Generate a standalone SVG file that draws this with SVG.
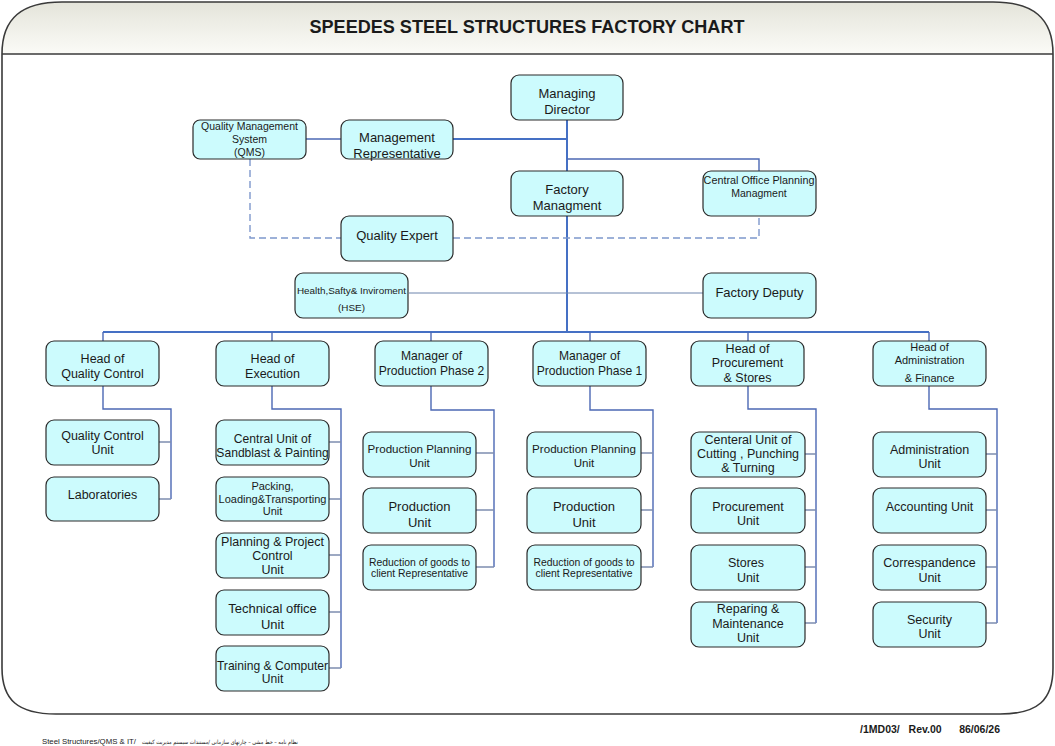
<svg xmlns="http://www.w3.org/2000/svg" width="1055" height="746" viewBox="0 0 1055 746">
<defs>
<linearGradient id="hdr" x1="0" y1="0" x2="0" y2="1">
<stop offset="0" stop-color="#e4e4da"/>
<stop offset="1" stop-color="#fbfbf7"/>
</linearGradient>
</defs>
<style>
.n rect{fill:#ccfbfd;stroke:#2a2a2a;stroke-width:1.2}
text{font-family:"Liberation Sans",Arial,sans-serif;fill:#1a1a1a;text-anchor:middle}
.a{font-size:12.5px}
.a2{font-size:12.1px}
.b{font-size:13px}
.s{font-size:10.5px}
.s8{font-size:10.8px}
.h{font-size:11px}
.m{font-size:11.6px}
.l{text-anchor:start}
.r{text-anchor:end}
.c path{fill:none}
.main{stroke:#4570c4;stroke-width:2}
.br{stroke:#4c68b4;stroke-width:1.4}
.st{stroke:#7d8db0;stroke-width:1.3}
.thin{stroke:#6d84ac;stroke-width:1}
.dash{stroke:#7e98cc;stroke-width:1.4;stroke-dasharray:7,4}
</style>
<rect width="1055" height="746" fill="#ffffff"/>
<g id="frame">
<path d="M2,54 C2,18 22,2 62,2 L993,2 C1033,2 1053,18 1053,54 Z" fill="url(#hdr)"/>
<path d="M2,54 C2,18 22,2 62,2 L993,2 C1033,2 1053,18 1053,54 L1053,668 C1053,700 1038,714 1000,714 L56,714 C18,714 2,700 2,668 Z" fill="none" stroke="#3a3a3a" stroke-width="1.6"/>
<line x1="2" y1="54" x2="1053" y2="54" stroke="#3a3a3a" stroke-width="1.6"/>
<text x="527" y="33" font-size="18" font-weight="bold" textLength="435" lengthAdjust="spacingAndGlyphs">SPEEDES STEEL STRUCTURES FACTORY CHART</text>
</g>
<g id="connectors" class="c">
<path class="main" d="M567,120 V171"/>
<path class="main" d="M453,139 H567"/>
<path class="br" d="M306,139 H341"/>
<path class="br" d="M567,159 H759 V171"/>
<path class="main" d="M567,216 V332"/>
<path class="main" d="M103,332 H929"/>
<path class="br" d="M103,332 V341 M272,332 V341 M431,332 V341 M590,332 V341 M748,332 V341 M929,332 V341"/>
<path class="thin" d="M409,293 H703"/>
<path class="dash" d="M250,159 V238 H341"/>
<path class="dash" d="M453,238 H759 V216"/>
<path class="br" d="M103,386 V409 H171 V499"/>
<path class="st" d="M159,442 H171 M159,499 H171"/>
<path class="br" d="M272,386 V409 H341 V668"/>
<path class="st" d="M329,442 H341 M329,499 H341 M329,555 H341 M329,612 H341 M329,668 H341"/>
<path class="br" d="M431,386 V410 H494 V567"/>
<path class="st" d="M476,453 H494 M476,510 H494 M476,567 H494"/>
<path class="br" d="M590,386 V410 H653 V567"/>
<path class="st" d="M641,453 H653 M641,510 H653 M641,567 H653"/>
<path class="br" d="M748,386 V409 H816 V623"/>
<path class="st" d="M805,454 H816 M805,510 H816 M805,567 H816 M805,623 H816"/>
<path class="br" d="M929,386 V409 H997 V623"/>
<path class="st" d="M986,454 H997 M986,510 H997 M986,567 H997 M986,623 H997"/>
</g>
<g id="md" class="n"><rect x="511" y="75" width="112" height="45" rx="8"/><text class="b" x="567" y="97.5">Managing</text><text class="b" x="567" y="113.5">Director</text></g>
<g id="qms" class="n"><rect x="193" y="120" width="113" height="39" rx="7"/><text class="s" x="249.5" y="130">Quality Management</text><text class="s" x="249.5" y="143">System</text><text class="s" x="249.5" y="156">(QMS)</text></g>
<g id="mr" class="n"><rect x="341" y="120" width="112" height="39" rx="8"/><text class="b" x="397" y="141.5">Management</text><text class="b" x="397" y="157.5">Representative</text></g>
<g id="fm" class="n"><rect x="511" y="171" width="112" height="45" rx="8"/><text class="b" x="567" y="193.5">Factory</text><text class="b" x="567" y="209.5">Managment</text></g>
<g id="copm" class="n"><rect x="703" y="171" width="113" height="45" rx="8"/><text class="s8" x="759" y="184">Central Office Planning</text><text class="s" x="759" y="197">Managment</text></g>
<g id="qe" class="n"><rect x="341" y="216" width="112" height="45" rx="8"/><text class="b" x="397" y="239.5">Quality Expert</text></g>
<g id="hse" class="n"><rect x="295" y="273" width="113" height="45" rx="8"/><text x="351.5" y="294" font-size="9.9">Health,Safty&amp; Inviroment</text><text x="351.5" y="311" font-size="9.9">(HSE)</text></g>
<g id="fd" class="n"><rect x="703" y="273" width="113" height="45" rx="8"/><text class="b" x="759.5" y="296.5">Factory Deputy</text></g>
<g id="hqc" class="n"><rect x="46" y="341" width="113" height="45" rx="8"/><text class="a" x="102.5" y="362.5">Head of</text><text class="a" x="102.5" y="377.5">Quality Control</text></g>
<g id="hex" class="n"><rect x="216" y="341" width="113" height="45" rx="8"/><text class="a" x="272.5" y="362.5">Head of</text><text class="a" x="272.5" y="377.5">Execution</text></g>
<g id="mp2" class="n"><rect x="375" y="341" width="113" height="45" rx="8"/><text class="a2" x="431.5" y="360">Manager of</text><text class="a2" x="431.5" y="375">Production Phase 2</text></g>
<g id="mp1" class="n"><rect x="533" y="341" width="113" height="45" rx="8"/><text class="a2" x="589.5" y="360">Manager of</text><text class="a2" x="589.5" y="375">Production Phase 1</text></g>
<g id="hps" class="n"><rect x="691" y="341" width="113" height="45" rx="8"/><text class="a" x="747.5" y="352.5">Head of</text><text class="a" x="747.5" y="366.5">Procurement</text><text class="a" x="747.5" y="381.5">&amp; Stores</text></g>
<g id="haf" class="n"><rect x="873" y="341" width="113" height="45" rx="8"/><text class="h" x="929.5" y="351">Head of</text><text class="h" x="929.5" y="364">Administration</text><text class="h" x="929.5" y="382">&amp; Finance</text></g>
<g id="qcu" class="n"><rect x="46" y="420" width="113" height="45" rx="8"/><text class="a" x="102.5" y="439.5">Quality Control</text><text class="a" x="102.5" y="453.5">Unit</text></g>
<g id="lab" class="n"><rect x="46" y="477" width="113" height="44" rx="8"/><text class="a" x="102.5" y="498.5">Laboratories</text></g>
<g id="sand" class="n"><rect x="216" y="420" width="113" height="45" rx="8"/><text class="a2" x="272.5" y="442.5">Central Unit of</text><text class="a2" x="272.5" y="456.5">Sandblast &amp; Painting</text></g>
<g id="pack" class="n"><rect x="216" y="477" width="113" height="44" rx="8"/><text x="272.5" y="489.5" font-size="11">Packing,</text><text x="272.5" y="502.5" font-size="11">Loading&amp;Transporting</text><text x="272.5" y="515" font-size="11">Unit</text></g>
<g id="plan" class="n"><rect x="216" y="533" width="113" height="45" rx="8"/><text class="a" x="272.5" y="545.5">Planning &amp; Project</text><text class="a" x="272.5" y="559.5">Control</text><text class="a" x="272.5" y="573.5">Unit</text></g>
<g id="tech" class="n"><rect x="216" y="590" width="113" height="45" rx="8"/><text class="b" x="272.5" y="612.5">Technical office</text><text class="b" x="272.5" y="628.5">Unit</text></g>
<g id="train" class="n"><rect x="216" y="646" width="113" height="45" rx="8"/><text class="a2" x="272.5" y="669.5">Training &amp; Computer</text><text class="a2" x="272.5" y="682.5">Unit</text></g>
<g id="ppu2" class="n"><rect x="363" y="432" width="113" height="45" rx="8"/><text class="m" x="419.5" y="453">Production Planning</text><text class="m" x="419.5" y="467">Unit</text></g>
<g id="pu2" class="n"><rect x="363" y="488" width="113" height="45" rx="8"/><text class="b" x="419.5" y="510.5">Production</text><text class="b" x="419.5" y="526.5">Unit</text></g>
<g id="rg2" class="n"><rect x="363" y="545" width="113" height="45" rx="8"/><text x="419.5" y="565.5" font-size="10.4">Reduction of goods to</text><text x="419.5" y="577" font-size="10.4">client Representative</text></g>
<g id="ppu1" class="n"><rect x="527" y="432" width="114" height="45" rx="8"/><text class="m" x="584" y="453">Production Planning</text><text class="m" x="584" y="467">Unit</text></g>
<g id="pu1" class="n"><rect x="527" y="488" width="114" height="45" rx="8"/><text class="b" x="584" y="510.5">Production</text><text class="b" x="584" y="526.5">Unit</text></g>
<g id="rg1" class="n"><rect x="527" y="545" width="114" height="45" rx="8"/><text x="584" y="565.5" font-size="10.4">Reduction of goods to</text><text x="584" y="577" font-size="10.4">client Representative</text></g>
<g id="cut" class="n"><rect x="691" y="432" width="114" height="45" rx="8"/><text class="a" x="748" y="443.5">Centeral Unit of</text><text class="a" x="748" y="457.5">Cutting , Punching</text><text class="a" x="748" y="471.5">&amp; Turning</text></g>
<g id="pru" class="n"><rect x="691" y="488" width="114" height="45" rx="8"/><text class="a" x="748" y="510.5">Procurement</text><text class="a" x="748" y="524.5">Unit</text></g>
<g id="sto" class="n"><rect x="691" y="545" width="114" height="45" rx="8"/><text class="a" x="746" y="566.5">Stores</text><text class="a" x="748" y="581.5">Unit</text></g>
<g id="rep" class="n"><rect x="691" y="602" width="114" height="45" rx="8"/><text class="a" x="748" y="612.5">Reparing &amp;</text><text class="a" x="748" y="627.5">Maintenance</text><text class="a" x="748" y="641.5">Unit</text></g>
<g id="adu" class="n"><rect x="873" y="432" width="113" height="45" rx="8"/><text class="a" x="929.5" y="453.5">Administration</text><text class="a" x="929.5" y="467.5">Unit</text></g>
<g id="acc" class="n"><rect x="873" y="488" width="113" height="45" rx="8"/><text class="a" x="929.5" y="510.5">Accounting Unit</text></g>
<g id="cor" class="n"><rect x="873" y="545" width="113" height="45" rx="8"/><text class="a" x="929.5" y="566.5">Correspandence</text><text class="a" x="929.5" y="581.5">Unit</text></g>
<g id="sec" class="n"><rect x="873" y="602" width="113" height="45" rx="8"/><text class="a" x="929.5" y="623.5">Security</text><text class="a" x="929.5" y="637.5">Unit</text></g>
<g id="footer">
<text class="r" x="1000" y="733" font-size="10.5" font-weight="bold" xml:space="preserve">/1MD03/   Rev.00      86/06/26</text>
<text class="l" x="42" y="744" font-size="6.5" textLength="94" lengthAdjust="spacingAndGlyphs">Steel Structures/QMS &amp; IT/</text>
<text class="r" x="298" y="744" font-size="5.8" fill="#333" textLength="156" lengthAdjust="spacingAndGlyphs" style="font-family:'DejaVu Sans',sans-serif">نظام نامه – خط مشی – چارتهای سازمانی /مستندات سیستم مدیریت کیفیت</text>
</g>
</svg>
